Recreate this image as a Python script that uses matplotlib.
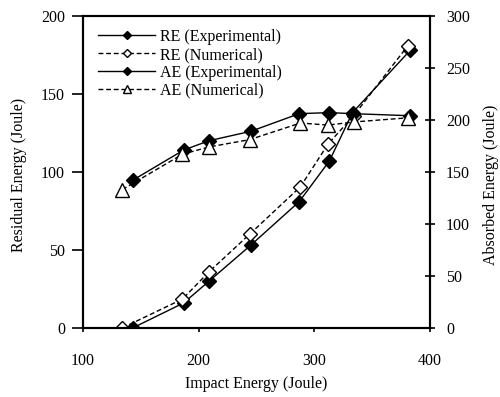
import numpy as np
from matplotlib import pyplot as plt

# impact energies (Joule)
x_exp = [143, 187, 209, 245, 287, 313, 333, 383]
x_num = [134, 186, 209, 244, 288, 312, 334, 381]

# residual energy, left axis
re_exp = [0, 16, 30, 53, 81, 107, 138, 178]
re_num = [0, 18.5, 36, 60, 90.5, 118, 136, 181]

# absorbed energy, right axis
ae_exp = [142, 171, 180, 189, 206, 207, 206, 204]
ae_num = [133, 167, 174, 181, 197, 195, 198, 202]

x_ticks = [100, 200, 300, 400]
left_ticks = [0, 50, 100, 150, 200]
right_ticks = [0, 50, 100, 150, 200, 250, 300]

plt.rcParams["font.family"] = ["Liberation Serif", "DejaVu Serif"]
fs = 11.5

fig = plt.figure(figsize=(5.0, 3.97), dpi=100)
ax = fig.add_axes([0.166, 0.174, 0.694, 0.786])
ax2 = ax.twinx()

l1, = ax.plot(x_exp, re_exp, "-", color="black", lw=1.0, marker="D", ms=7.5,
              mfc="black", mec="black", label="RE (Experimental)")
l2, = ax.plot(x_num, re_num, "--", color="black", lw=1.0, dashes=(3.5, 2), marker="D",
              ms=7.5, mfc="white", mec="black", mew=1.0, label="RE (Numerical)")
l3, = ax2.plot(x_exp, ae_exp, "-", color="black", lw=1.0, marker="D", ms=7.5,
               mfc="black", mec="black", label="AE (Experimental)")
l4, = ax2.plot(x_num, ae_num, "--", color="black", lw=1.0, dashes=(3.5, 2), marker="^",
               ms=9.5, mfc="white", mec="black", mew=1.0, label="AE (Numerical)")

ax.set_xlim(100, 400)
ax.set_ylim(0, 200)
ax2.set_ylim(0, 300)
ax.set_xticks(x_ticks)
ax.set_yticks(left_ticks)
ax2.set_yticks(right_ticks)

for a in (ax, ax2):
    for s in a.spines.values():
        s.set_linewidth(1.5)

ax.tick_params(axis="x", direction="out", length=3, width=1.2, pad=15, labelsize=fs)
ax.tick_params(axis="y", direction="out", length=8, width=1.2, pad=5, labelsize=fs)
ax2.tick_params(axis="y", direction="inout", length=7, width=1.2, pad=8, labelsize=fs)

ax.set_xlabel("Impact Energy (Joule)", fontsize=fs)
ax.set_ylabel("Residual Energy (Joule)", fontsize=fs)
ax2.set_ylabel("Absorbed Energy (Joule)", fontsize=fs)
ax.xaxis.set_label_coords(0.5, -0.155)
ax.yaxis.set_label_coords(-0.16, 0.49)
ax2.yaxis.set_label_coords(1.153, 0.46)

ax2.legend(handles=[l1, l2, l3, l4], loc="upper left", bbox_to_anchor=(0.043, 0.958),
           frameon=False, fontsize=fs, handlelength=3.6, handletextpad=0.3,
           labelspacing=0.12, borderpad=0, borderaxespad=0, markerscale=0.55)

fig.savefig("out.png", dpi=100)
